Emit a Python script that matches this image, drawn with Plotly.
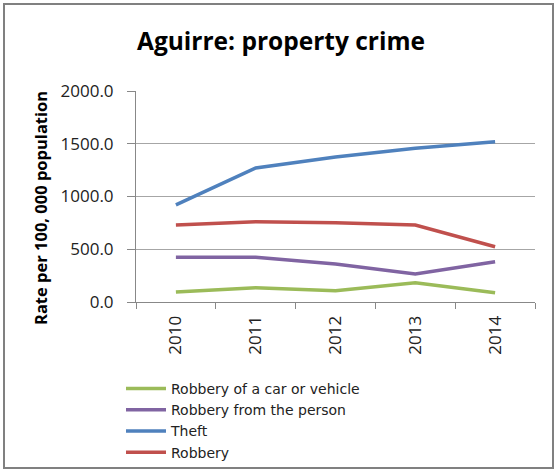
import plotly.graph_objs as go

# colours (Excel 2007 palette)
GREEN = '#9BBB59'
PURPLE = '#8064A2'
BLUE = '#4F81BD'
RED = '#C0504D'

years = ['2010', '2011', '2012', '2013', '2014']
car_vehicle = [95, 136, 107, 183, 88]
from_person = [423, 423, 360, 265, 382]
theft = [920, 1270, 1375, 1457, 1520]
robbery = [730, 761, 752, 730, 524]

series = [
    ('Robbery of a car or vehicle', car_vehicle, GREEN),
    ('Robbery from the person', from_person, PURPLE),
    ('Theft', theft, BLUE),
    ('Robbery', robbery, RED),
]

# plot area in pixels: left 136, right 535, top 91, bottom 302
W, H = 555, 470
PL, PR, PT, PB = 136, 535, 91, 302
PW, PH = PR - PL, PB - PT

fig = go.Figure()
for name, vals, col in series:
    fig.add_trace(go.Scatter(
        x=years, y=vals, name=name, mode='lines',
        line=dict(color=col, width=3.5)
    ))

fig.update_layout(
    width=W,
    height=H,
    paper_bgcolor='white',
    plot_bgcolor='white',
    font=dict(family='Open Sans, Liberation Sans, sans-serif', color='#222222'),
    margin=dict(l=PL, r=W - PR, t=PT, b=H - PB),
    title=dict(
        text='<b>Aguirre: property crime</b>',
        x=281 / W, xanchor='center',
        y=1 - 41 / H, yanchor='middle',
        font=dict(size=24.5, color='black')
    ),
    showlegend=True,
    # container y so the legend does not push the bottom margin
    legend=dict(
        xref='paper', yref='container',
        x=(121 - PL) / PW, y=1 - 373 / H, xanchor='left', yanchor='top',
        orientation='v',
        font=dict(family='DejaVu Sans', size=14, color='#222222'),
        tracegroupgap=0,
        itemwidth=40,
        bgcolor='rgba(0,0,0,0)',
    ),
    xaxis=dict(
        type='category',
        range=[-0.5, 4.5],
        tickson='boundaries',
        ticks='outside',
        ticklen=6,
        tickcolor='#888888',
        ticklabelstandoff=6,
        showline=True,
        linecolor='#888888',
        showgrid=False,
        tickangle=-90,
        tickfont=dict(size=17, color='#222222'),
        automargin=False,
    ),
    yaxis=dict(
        range=[0, 2000],
        tickvals=[0, 500, 1000, 1500, 2000],
        tickformat='.1f',
        ticks='outside',
        ticklen=8,
        tickcolor='#888888',
        ticklabelstandoff=10,
        showline=True,
        linecolor='#888888',
        showgrid=True,
        gridcolor='#A6A6A6',
        zeroline=False,
        tickfont=dict(size=17, color='#222222'),
        automargin=False,
    ),
)

# y axis title
fig.add_annotation(
    text='<b>Rate per 100, 000 population</b>',
    xref='paper', yref='paper',
    x=(40 - PL) / PW, y=(PB - 208) / PH,
    xanchor='center', yanchor='middle',
    textangle=-90, showarrow=False,
    font=dict(size=16.5, color='black')
)

# outer chart border
fig.add_shape(
    type='rect', xref='paper', yref='paper',
    x0=(4 - PL) / PW, x1=(553 - PL) / PW,
    y0=(PB - 468) / PH, y1=(PB - 4) / PH,
    line=dict(color='#808080', width=2),
    layer='below'
)

fig.write_html(
    "out.html",
    config={'displayModeBar': False},
    post_script="document.body.style.margin='0';"
)
